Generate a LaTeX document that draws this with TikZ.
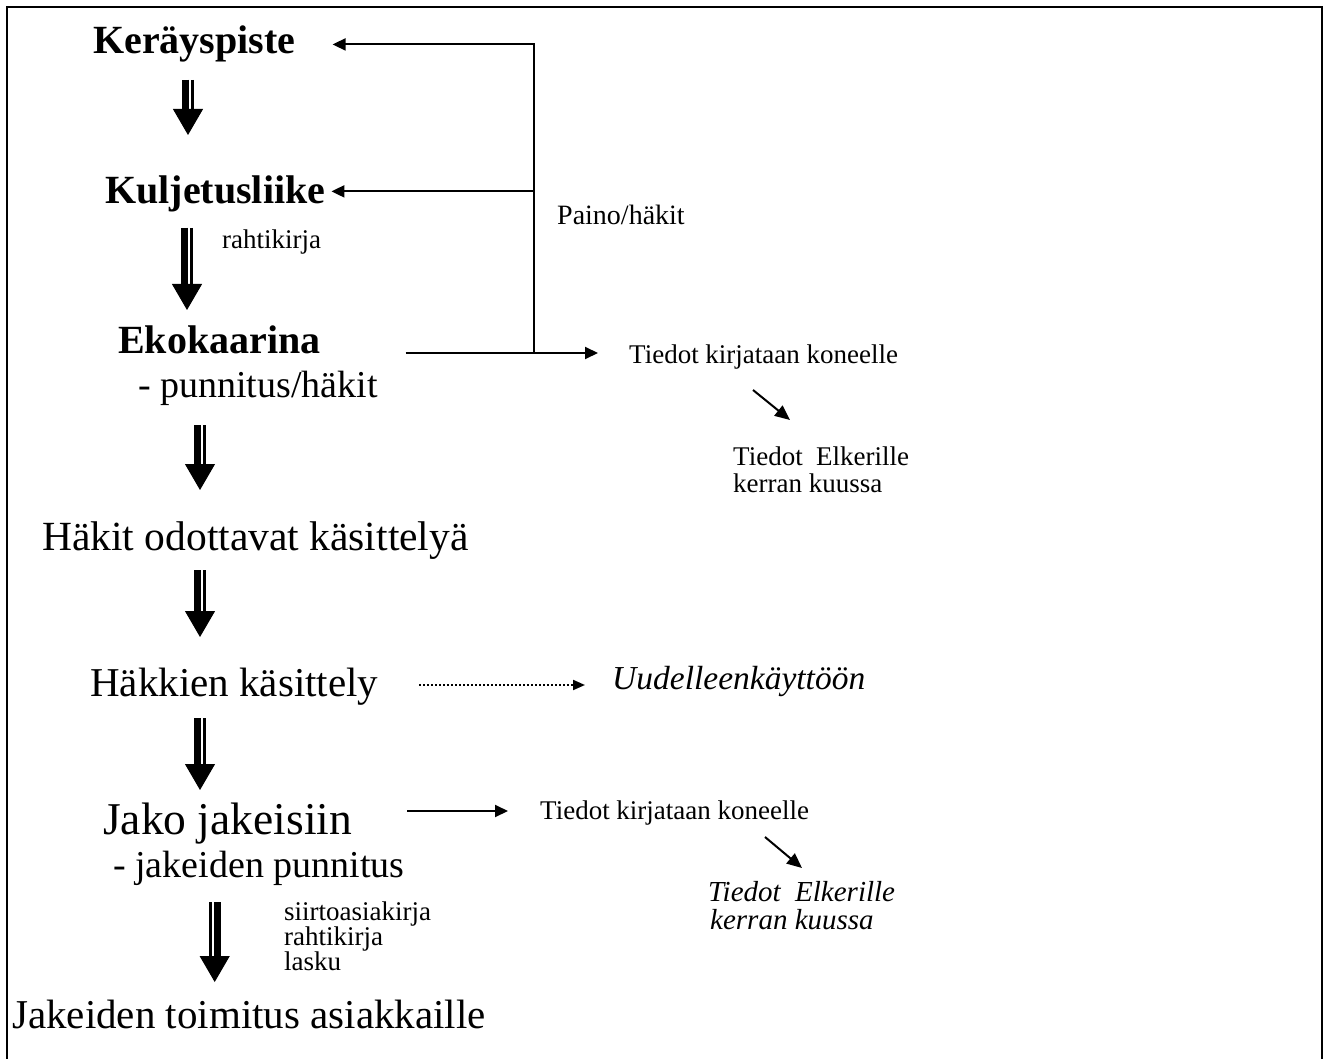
\documentclass[tikz,border=0pt]{standalone}
\usepackage{fontspec}
\setmainfont{Liberation Serif}
\usetikzlibrary{arrows.meta}
\begin{document}
\begin{tikzpicture}[x=1pt,y=-1pt,
  every node/.style={inner sep=0pt,anchor=base west},
  iso/.style={font=\fontsize{41}{48}\selectfont},
  isob/.style={font=\fontsize{40}{48}\selectfont\bfseries},
  pieni/.style={font=\fontsize{27}{32}\selectfont},
  kursiivi/.style={font=\fontsize{33.5}{38}\selectfont\itshape},
  ohut/.style={line width=2pt,-{Triangle[length=13pt,width=12pt]}},
  vino/.style={line width=2pt,-{Triangle[length=15pt,width=13pt]}},
  paksu/.style={line width=1pt,-{Triangle[length=26pt,width=30pt]},
    preaction={draw,-,line width=7pt,shorten >=24pt,transform canvas={xshift={-2.5pt*#1}}},
    preaction={draw,-,line width=3pt,shorten >=24pt,transform canvas={xshift={4pt*#1}}}},
  paksu/.default=1]
  \useasboundingbox (0,0) rectangle (1323,1059);
  \draw[line width=2.5pt] (7,7) rectangle (1322,1075);

  \node[isob] (kera) at (93,54) {Keräyspiste};
  \node[isob] (kulj) at (105,204) {Kuljetusliike};
  \node[pieni] (rahti) at (222,249) {rahtikirja};
  \node[isob] (eko) at (118,353) {Ekokaarina};
  \node[iso,font=\fontsize{38}{44}\selectfont] (ekopun) at (138,397) {- punnitus/häkit};
  \node[pieni,font=\fontsize{28}{32}\selectfont] (paino) at (557,225) {Paino/häkit};
  \node[pieni] (tk1) at (629,363) {Tiedot kirjataan koneelle};
  \node[pieni] (te1) at (733,465) {Tiedot\ \ Elkerille};
  \node[pieni] (kk1) at (733,492) {kerran kuussa};
  \node[iso,font=\fontsize{41.5}{48}\selectfont] (hakit) at (42,550) {Häkit odottavat käsittelyä};
  \node[iso] (kasit) at (90,696) {Häkkien käsittely};
  \node[kursiivi] (uud) at (612,689) {Uudelleenkäyttöön};
  \node[iso,font=\fontsize{45.5}{50}\selectfont] (jako) at (103,834) {Jako jakeisiin};
  \node[iso,font=\fontsize{38}{44}\selectfont] (jakpun) at (113,877) {- jakeiden punnitus};
  \node[pieni] (tk2) at (540,819) {Tiedot kirjataan koneelle};
  \node[kursiivi,font=\fontsize{29}{34}\selectfont\itshape] (te2) at (708,901) {Tiedot\ \ Elkerille};
  \node[kursiivi,font=\fontsize{29}{34}\selectfont\itshape] (kk2) at (710,929) {kerran kuussa};
  \node[pieni] (siirto) at (284,920) {siirtoasiakirja};
  \node[pieni] (rahti2) at (284,945) {rahtikirja};
  \node[pieni] (lasku) at (284,970) {lasku};
  \node[iso] (toim) at (12,1028) {Jakeiden toimitus asiakkaille};

  % paksut nuolet alaspäin
  \draw[paksu] ([shift={(95,26)}]kera.base west) -- ([shift={(83,-69)}]kulj.base west);
  \draw[paksu] ([shift={(82,24)}]kulj.base west) -- ([shift={(69,-43)}]eko.base west);
  \draw[paksu] ([shift={(62,28)}]ekopun.base west) -- ([shift={(158,-60)}]hakit.base west);
  \draw[paksu] ([shift={(158,20)}]hakit.base west) -- ([shift={(110,-59)}]kasit.base west);
  \draw[paksu] ([shift={(110,22)}]kasit.base west) -- ([shift={(97,-44)}]jako.base west);
  \draw[paksu=-1] ([shift={(101.7,25)}]jakpun.base west) -- ([shift={(202.7,-46)}]toim.base west);

  \coordinate (j) at ([xshift=213]eko.base east);
  \coordinate (k1) at ([xshift=37]kera.east);
  \coordinate (k2) at ([shift={(6,-3)}]kulj.east);
  \draw[ohut,shorten >=31pt] ([xshift=85]eko.base east) -- (tk1.west |- eko.base east);
  \draw[ohut] (j) |- (k1);
  \draw[ohut] (j |- k2) -- (k2);
  \draw[vino] ([shift={(124,27)}]tk1.base west) -- ([shift={(57,-45)}]te1.base west);

  \draw[line width=2pt,dash pattern=on 2pt off 2pt,-{Triangle[length=12pt,width=10pt]}]
    ([shift={(329,-11)}]kasit.base west) -- ([shift={(-27,-4)}]uud.base west);

  \draw[ohut] ([shift={(304,-23)}]jako.base west) -- ([shift={(-32,-8)}]tk2.base west);
  \draw[vino] ([shift={(225,18)}]tk2.base west) -- ([shift={(94,-33)}]te2.base west);
\end{tikzpicture}
\end{document}
